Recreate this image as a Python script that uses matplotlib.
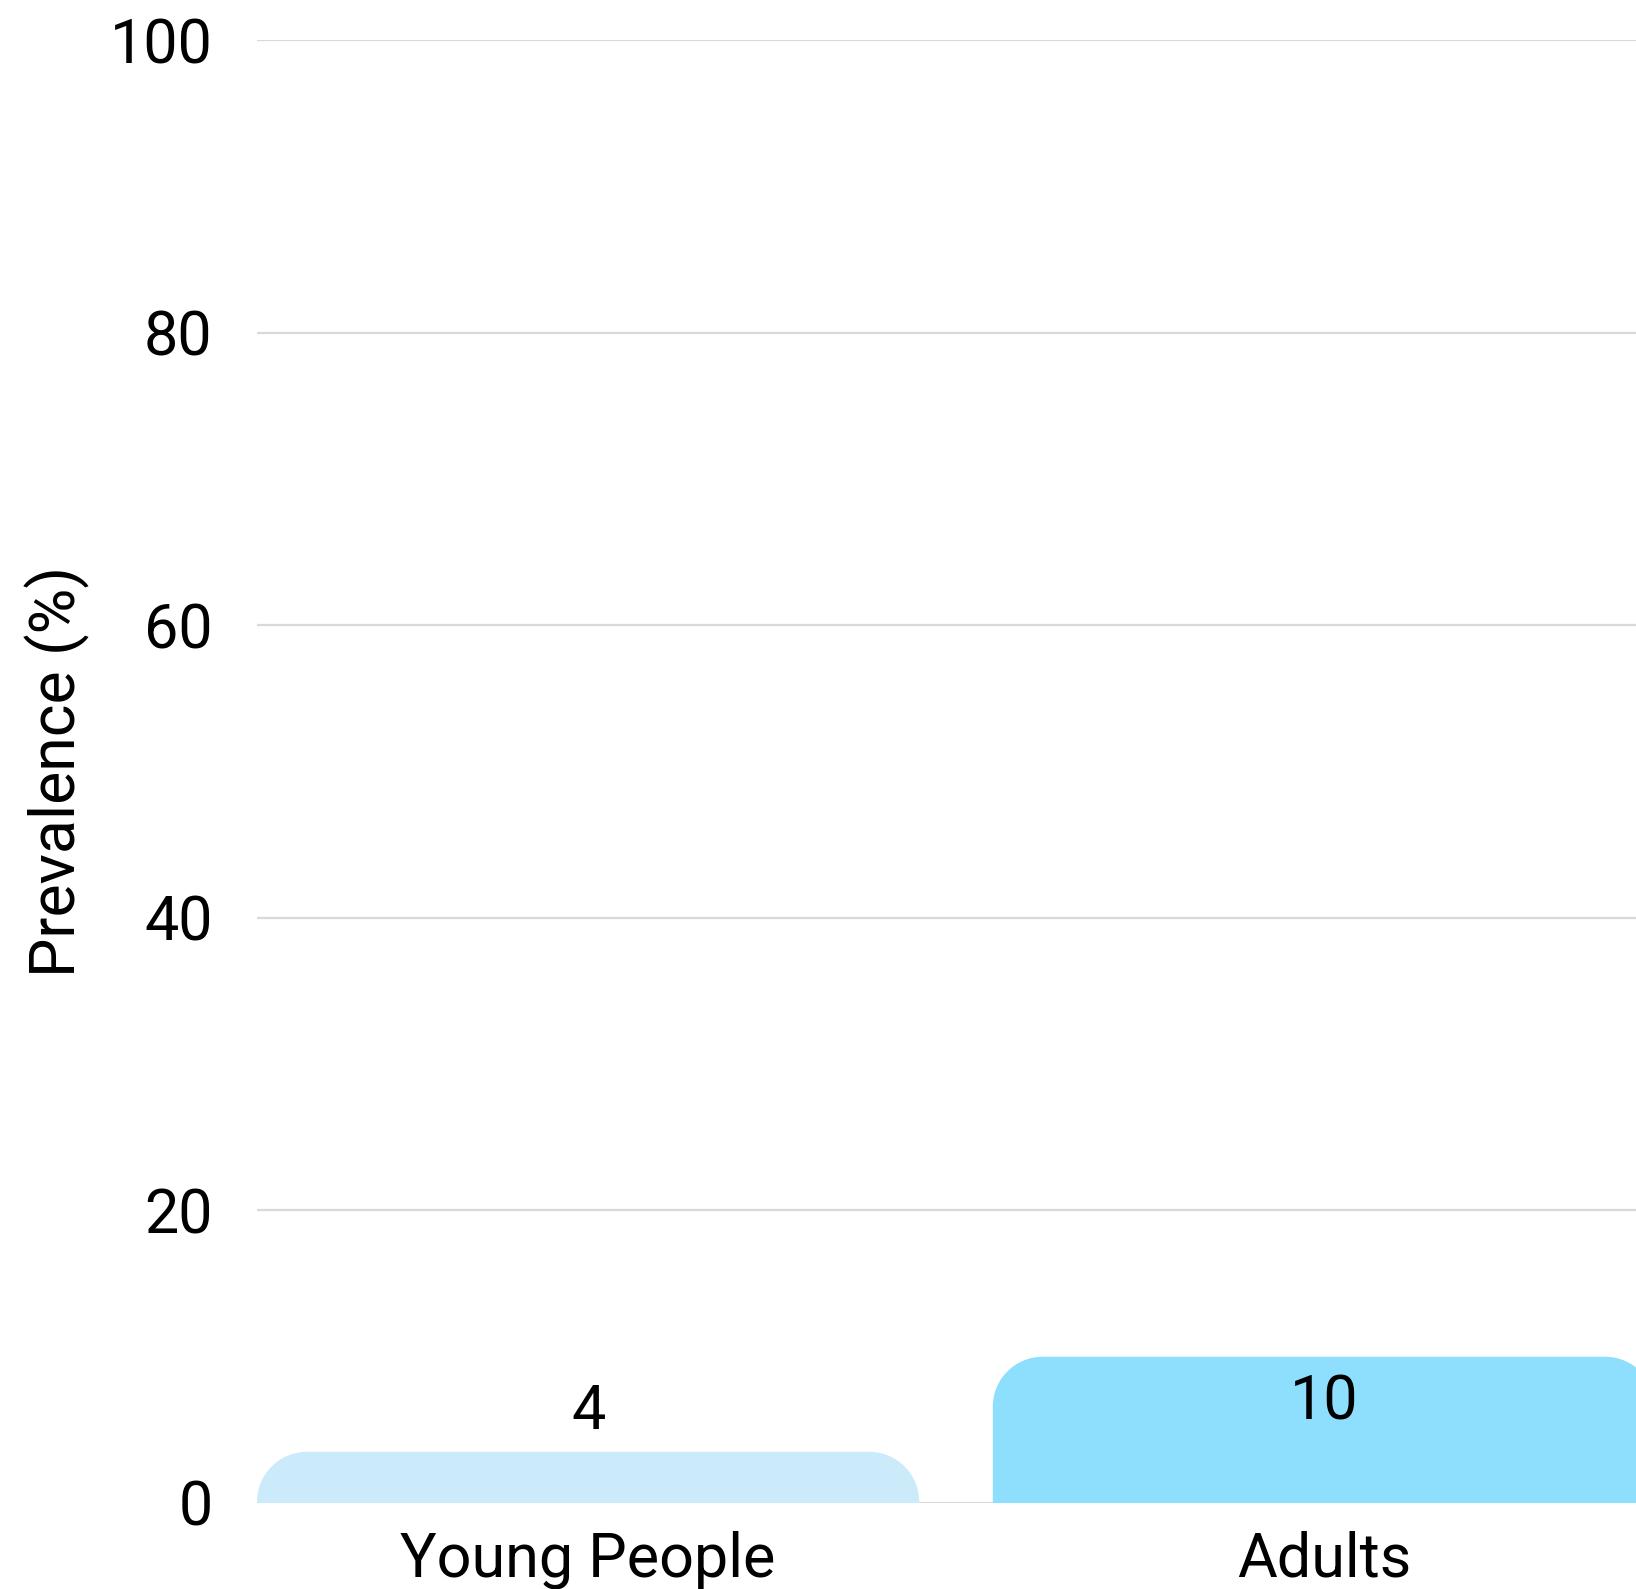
import matplotlib
matplotlib.use("Agg")
import matplotlib.pyplot as plt
from matplotlib.path import Path
from matplotlib.patches import PathPatch

categories = ["Young People", "Adults"]
values = [3.5, 10]
value_labels = ["4", "10"]
colors = ["#CCEBFA", "#8EDFFE"]
yticks = [0, 20, 40, 60, 80, 100]
ylabel = "Prevalence (%)"

plt.rcParams['font.family'] = ['Roboto', 'DejaVu Sans']

W, H, DPI = 1636, 1589, 100
fig = plt.figure(figsize=(W / DPI, H / DPI), dpi=DPI)
left_px, right_px, top_px, bottom_px = 257, 1655, 40, 1503
ax = fig.add_axes([left_px / W, (H - bottom_px) / H,
                   (right_px - left_px) / W, (bottom_px - top_px) / H])

x = list(range(len(categories)))
bars = ax.bar(x, values, width=0.9, color=colors, zorder=2)
ax.set_xlim(-0.45, 1.45)
ax.set_ylim(0, 100)

ax.set_yticks(yticks)
ax.set_yticklabels([str(t) for t in yticks])
ax.set_xticks(x)
ax.set_xticklabels(categories)
ax.tick_params(axis='both', length=0, labelsize=44, colors='black')
ax.tick_params(axis='y', pad=32)
ax.tick_params(axis='x', pad=20)
ax.grid(axis='y', color='#D9D9D9', linewidth=1.6, zorder=0)
ax.set_axisbelow(True)
for s in ax.spines.values():
    s.set_visible(False)
ax.set_ylabel(ylabel, fontsize=45, labelpad=14)

# rounded top corners
fig.canvas.draw()
px_per_x = (ax.transData.transform((1, 0))[0] - ax.transData.transform((0, 0))[0])
px_per_y = (ax.transData.transform((0, 0))[1] - ax.transData.transform((0, 1))[1]) * -1
r_px = 50
k = 0.5523
for b in bars:
    x0, y0 = b.get_x(), b.get_y()
    w, h = b.get_width(), b.get_height()
    rx = r_px / px_per_x
    ry = min(r_px / px_per_y, h)
    x1, y1 = x0 + w, y0 + h
    verts = [
        (x0, y0), (x0, y1 - ry),
        (x0, y1 - ry + k * ry), (x0 + rx - k * rx, y1), (x0 + rx, y1),
        (x1 - rx, y1),
        (x1 - rx + k * rx, y1), (x1, y1 - ry + k * ry), (x1, y1 - ry),
        (x1, y0), (x0, y0)]
    codes = [Path.MOVETO, Path.LINETO,
             Path.CURVE4, Path.CURVE4, Path.CURVE4,
             Path.LINETO,
             Path.CURVE4, Path.CURVE4, Path.CURVE4,
             Path.LINETO, Path.CLOSEPOLY]
    patch = PathPatch(Path(verts, codes), facecolor=b.get_facecolor(),
                      edgecolor='none', zorder=2)
    b.set_visible(False)
    ax.add_patch(patch)

for xi, v, lab in zip(x, values, value_labels):
    bar_px = v * px_per_y
    if bar_px > 100:
        ax.annotate(lab, (xi, v), xytext=(0, -12), textcoords='offset points',
                    ha='center', va='top', fontsize=44, zorder=3)
    else:
        ax.annotate(lab, (xi, v), xytext=(0, 8), textcoords='offset points',
                    ha='center', va='bottom', fontsize=44, zorder=3)

fig.savefig("out.png", dpi=DPI, facecolor='white')
